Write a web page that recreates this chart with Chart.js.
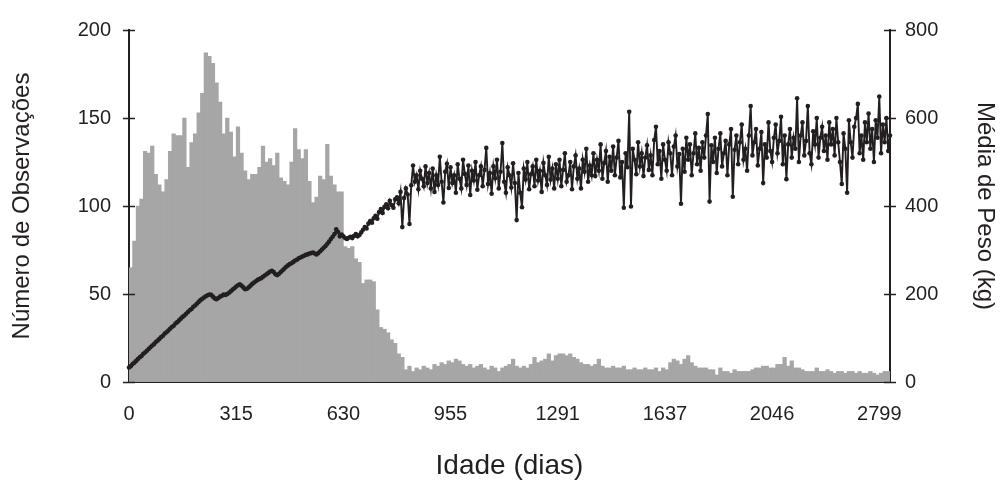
<!DOCTYPE html>
<html>
<head>
<meta charset="utf-8">
<script src="https://cdn.jsdelivr.net/npm/chart.js@4.4.0/dist/chart.umd.min.js"></script>
<style>
  html, body { margin: 0; padding: 0; background: #fff; }
  #wrap { width: 1001px; height: 488px; }
</style>
</head>
<body>
<div id="wrap"><canvas id="chart" width="1001" height="488"></canvas></div>
<script>
// tick labels shown on the x axis, one every `labelStep` categories
const tickLabels = ['0', '315', '630', '955', '1291', '1637', '2046', '2799'];
const labelStep = 30;

// Número de observações por idade (eixo esquerdo, 214 classes)
const observacoes = [
  65, 80, 100, 104, 131, 130, 134, 118, 112, 108,
  115, 131, 141, 140, 140, 150, 122, 136, 141, 153,
  164, 187, 185, 181, 170, 159, 141, 150, 142, 128,
  145, 130, 120, 115, 118, 118, 122, 134, 125, 127,
  123, 130, 116, 114, 112, 125, 144, 132, 127, 132,
  114, 102, 105, 117, 115, 135, 117, 112, 108, 108,
  77, 76, 77, 70, 68, 56, 58, 58, 57, 41,
  31, 30, 28, 24, 22, 16, 14, 7, 9, 6,
  8, 7, 9, 8, 7, 10, 9, 11, 10, 12,
  11, 13, 12, 10, 9, 10, 8, 9, 10, 8,
  7, 9, 8, 6, 8, 9, 10, 13, 9, 8,
  9, 8, 10, 14, 11, 12, 13, 16, 12, 15,
  16, 16, 15, 16, 14, 13, 11, 10, 10, 9,
  10, 13, 9, 8, 8, 9, 8, 8, 9, 7,
  7, 8, 7, 7, 8, 7, 7, 8, 6, 8,
  7, 11, 13, 12, 10, 13, 15, 11, 9, 8,
  8, 8, 7, 7, 4, 8, 6, 6, 5, 7,
  6, 6, 6, 6, 7, 8, 8, 9, 9, 8,
  8, 10, 10, 14, 9, 12, 8, 8, 7, 6,
  6, 6, 8, 6, 6, 7, 6, 5, 6, 6,
  5, 6, 6, 5, 6, 5, 5, 6, 5, 4,
  5, 6, 6, 5
];

// Média de peso (kg), eixo direito: pontos mais densos (427 idades)
const mediaPeso = [
  33, 36, 41, 44, 48, 52, 56, 59, 64, 67,
  71, 75, 79, 83, 86, 91, 94, 98, 102, 105,
  110, 113, 117, 121, 125, 128, 133, 136, 140, 144,
  148, 151, 155, 159, 163, 166, 171, 174, 178, 182,
  186, 189, 192, 195, 197, 199, 198, 194, 190, 188,
  191, 194, 196, 199, 198, 200, 203, 206, 210, 213,
  217, 220, 222, 219, 215, 211, 212, 215, 219, 223,
  226, 229, 232, 234, 236, 239, 242, 245, 248, 251,
  253, 250, 245, 243, 246, 250, 254, 258, 262, 265,
  268, 270, 273, 276, 278, 281, 283, 285, 287, 289,
  290, 292, 293, 294, 292, 290, 293, 297, 301, 305,
  309, 314, 319, 325, 330, 336, 347, 341, 331, 335,
  331, 327, 325, 328, 330, 327, 332, 336, 331, 334,
  340, 346, 352, 349, 360, 366, 362, 372, 378, 371,
  386, 393, 384, 398, 404, 395, 412, 402, 396, 415,
  420, 406, 432, 352, 418, 440, 426, 359, 447, 492,
  455, 470, 438, 480, 462, 445, 490, 452, 475, 440,
  485, 432, 470, 448, 512, 455, 408, 478, 496, 441,
  488, 452, 470, 430, 495, 462, 440, 505, 473, 448,
  492, 425, 480, 458, 500, 437, 470, 490, 445, 482,
  532, 450, 475, 428, 490, 463, 505, 440, 478, 543,
  455, 430, 488, 470, 442, 497, 452, 368, 475, 430,
  397, 485, 460, 500, 438, 472, 490, 445, 505, 458,
  480, 432, 498, 470, 448, 512, 460, 485, 440, 495,
  462, 505, 445, 482, 520, 455, 470, 500, 438, 490,
  515, 462, 485, 440, 505, 478, 530, 455, 492, 470,
  520, 468, 505, 480, 540, 462, 498, 525, 455, 512,
  480, 535, 470, 510, 548, 465, 500, 396, 520, 488,
  614, 399, 530, 505, 472, 545, 490, 520, 468, 510,
  538, 482, 515, 470, 550, 580, 495, 525, 462, 540,
  505, 480, 545, 520, 470, 535, 560, 490, 518, 405,
  530, 478, 555, 505, 540, 470, 520, 565, 495, 532,
  480, 545, 510, 560, 609, 410, 538, 500, 555, 475,
  530, 565, 490, 520, 548, 470, 540, 575, 421, 528,
  560, 495, 545, 585, 505, 530, 480, 560, 627, 515,
  545, 575, 492, 530, 568, 452, 540, 510, 590, 525,
  500, 555, 585, 520, 548, 603, 495, 560, 461, 540,
  575, 510, 555, 530, 645, 500, 560, 590, 515, 548,
  627, 520, 495, 570, 540, 600, 510, 555, 580, 525,
  560, 505, 590, 540, 575, 515, 600, 545, 500, 450,
  565, 530, 430, 595, 545, 510, 580, 600, 632, 520,
  560, 505, 590, 545, 610, 530, 575, 500, 595, 555,
  649, 520, 585, 545, 600, 525, 560
];

const categorias = observacoes.map((_, i) => (i % labelStep === 0 ? tickLabels[i / labelStep] : ''));
const categoriasPeso = mediaPeso.map(() => '');

const axisColor = '#231f20';
const fontFamily = '"Liberation Sans", Arial, sans-serif';

// Excel-style tick marks that cross the vertical axis lines
const crossTicks = {
  id: 'crossTicks',
  afterDraw(chart) {
    const ctx = chart.ctx;
    ctx.save();
    ctx.strokeStyle = axisColor;
    ctx.lineWidth = 1.5;
    ['y', 'y1'].forEach(id => {
      const s = chart.scales[id];
      const x = id === 'y' ? s.right : s.left;
      s.ticks.forEach(t => {
        const py = Math.round(s.getPixelForValue(t.value)) + 0.5;
        ctx.beginPath();
        ctx.moveTo(x - 6, py);
        ctx.lineTo(x + 6, py);
        ctx.stroke();
      });
    });
    ctx.restore();
  }
};

new Chart(document.getElementById('chart').getContext('2d'), {
  data: {
    labels: categorias,
    datasets: [
      {
        type: 'line',
        data: mediaPeso,
        xAxisID: 'xl',
        yAxisID: 'y1',
        order: 1,
        borderColor: axisColor,
        borderWidth: 1.9,
        pointRadius: 2.3,
        pointBackgroundColor: axisColor,
        pointBorderColor: axisColor,
        pointBorderWidth: 0,
        tension: 0
      },
      {
        type: 'bar',
        data: observacoes,
        xAxisID: 'x',
        yAxisID: 'y',
        order: 2,
        backgroundColor: '#a6a6a6',
        borderWidth: 0,
        barThickness: 3.6,
        barPercentage: 1,
        categoryPercentage: 1
      }
    ]
  },
  options: {
    responsive: false,
    animation: false,
    devicePixelRatio: 1,
    layout: { padding: { top: 21, left: 0, right: 0, bottom: 0 } },
    plugins: { legend: { display: false }, tooltip: { enabled: false } },
    scales: {
      x: {
        type: 'category',
        offset: false,
        grid: { display: false, drawTicks: false },
        border: { display: true, color: axisColor, width: 2 },
        ticks: {
          autoSkip: false, maxRotation: 0, minRotation: 0, padding: 20,
          color: axisColor, font: { family: fontFamily, size: 20 }
        },
        title: {
          display: true, text: 'Idade (dias)', color: axisColor,
          font: { family: fontFamily, size: 28 }, padding: { top: 0, bottom: 5 }
        },
        afterFit(scale) { scale.height = 106; }
      },
      xl: {
        type: 'category',
        labels: categoriasPeso,
        offset: false,
        display: false
      },
      y: {
        position: 'left',
        min: 0, max: 200,
        grid: { display: false, drawTicks: false },
        border: { display: true, color: axisColor, width: 2 },
        ticks: {
          stepSize: 50, padding: 18,
          color: axisColor, font: { family: fontFamily, size: 20 }
        },
        title: {
          display: true, text: 'Número de Observações', color: axisColor,
          font: { family: fontFamily, size: 24 }, padding: { top: 8, bottom: 0 }
        },
        afterFit(scale) { scale.width = 129; }
      },
      y1: {
        position: 'right',
        min: 0, max: 800,
        grid: { display: false, drawTicks: false },
        border: { display: true, color: axisColor, width: 2 },
        ticks: {
          stepSize: 200, padding: 15,
          color: axisColor, font: { family: fontFamily, size: 20 }
        },
        title: {
          display: true, text: 'Média de Peso (kg)', color: axisColor,
          font: { family: fontFamily, size: 24 }, padding: { top: 2, bottom: 0 }
        },
        afterFit(scale) { scale.width = 111; }
      }
    }
  },
  plugins: [crossTicks]
});
</script>
</body>
</html>
